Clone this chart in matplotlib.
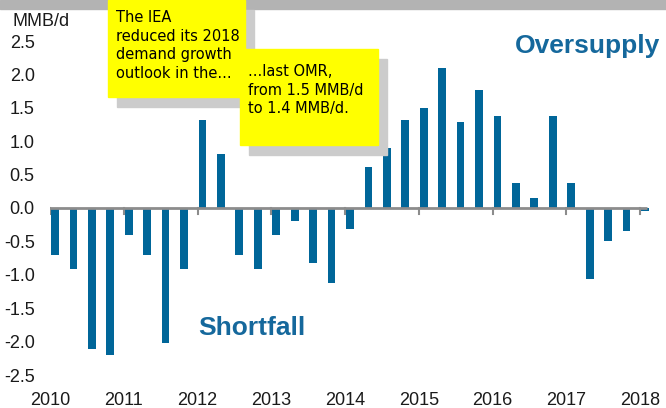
import numpy as np
import matplotlib.pyplot as plt
from matplotlib.patches import Rectangle

# ── Data: quarterly supply/demand balance (MMB/d) ────────────────────────────
years = [2010, 2011, 2012, 2013, 2014, 2015, 2016, 2017, 2018]
balance = [
    -0.70, -0.91, -2.11, -2.20,   # 2010
    -0.40, -0.70, -2.02, -0.91,   # 2011
     1.32,  0.81, -0.70, -0.91,   # 2012
    -0.40, -0.19, -0.82, -1.12,   # 2013
    -0.31,  0.61,  0.90,  1.32,   # 2014
     1.50,  2.10,  1.29,  1.77,   # 2015
     1.38,  0.37,  0.15,  1.38,   # 2016
     0.37, -1.06, -0.50, -0.35,   # 2017
    -0.05,                        # 2018
]
quarters = [years[0] + i / 4 for i in range(len(balance))]
yticks = [2.5, 2.0, 1.5, 1.0, 0.5, 0.0, -0.5, -1.0, -1.5, -2.0, -2.5]

BAR = "#006699"
W, H = 666, 408
plt.rcParams["font.family"] = ["Liberation Sans", "DejaVu Sans"]

fig = plt.figure(figsize=(W / 100, H / 100), dpi=100)

# grey band at the top
fig.patches.append(Rectangle((0, 1 - 9 / H), 1, 9 / H, transform=fig.transFigure,
                             color="#b3b3b3", zorder=0))

# axes: 2010..2018 -> x 50..640 px, -2.5..2.5 -> y 375..41 px
px_per_year = (640 - 50) / 8
x_right = 2018.15
ax = fig.add_axes([50 / W, (H - 375) / H,
                   (x_right - 2010) * px_per_year / W, (375 - 41) / H])
ax.set_xlim(2010, x_right)
ax.set_ylim(-2.5, 2.5)

ax.bar([q + 0.015 for q in quarters], balance, width=0.105, align="edge",
       color=BAR, zorder=2)
ax.plot([2010, 2018.1], [0, 0], color="#8c8c8c", linewidth=2, zorder=3,
        solid_capstyle="butt")
for y in years:
    ax.plot([y, y], [0, -0.09], color="#8c8c8c", linewidth=1.5, zorder=3)

for s in ax.spines.values():
    s.set_visible(False)
ax.set_xticks(years)
ax.set_xticklabels([str(y) for y in years])
ax.set_yticks(yticks)
ax.set_yticklabels([f"{v:.1f}" for v in yticks])
ax.tick_params(axis="both", length=0, labelsize=13, colors="#1a1a1a")
ax.tick_params(axis="x", pad=12)
ax.tick_params(axis="y", pad=11)

fig.text(12 / W, 1 - 21 / H, "MMB/d", fontsize=13, color="#1a1a1a",
         va="center", ha="left")
fig.text(660 / W, 1 - 46 / H, "Oversupply", fontsize=19, fontweight="bold",
         color="#15689c", ha="right", va="center")
fig.text(198 / W, 1 - 328 / H, "Shortfall", fontsize=19, fontweight="bold",
         color="#15689c", ha="left", va="center")


# yellow call-out boxes with grey shadows (pixel coords, top-left origin)
def box(x0, y0, x1, y1, text, tx, ty):
    fig.patches.append(Rectangle(((x0 + 9) / W, 1 - (y1 + 10) / H), (x1 - x0) / W,
                                 (y1 - y0) / H, transform=fig.transFigure,
                                 color="#cccccc", zorder=5))
    fig.patches.append(Rectangle((x0 / W, 1 - y1 / H), (x1 - x0) / W, (y1 - y0) / H,
                                 transform=fig.transFigure, color="#ffff00", zorder=6))
    fig.text(tx / W, 1 - ty / H, text, fontsize=10.5, color="black", ha="left",
             va="top", linespacing=1.3, family="DejaVu Sans", zorder=7)


box(108, 0, 245, 97, "The IEA\nreduced its 2018\ndemand growth\noutlook in the...", 116, 10)
box(240, 49, 378, 145, "...last OMR,\nfrom 1.5 MMB/d\nto 1.4 MMB/d.", 248, 64)

fig.savefig("out.png", dpi=100)
